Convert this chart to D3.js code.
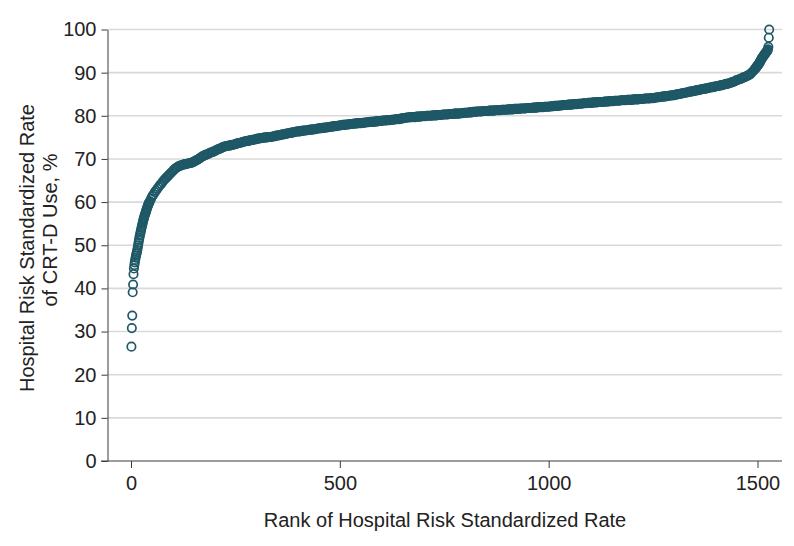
<!DOCTYPE html>
<html><head><meta charset="utf-8">
<script src="https://cdn.jsdelivr.net/npm/d3@7"></script>
<style>
body{margin:0;background:#fff}
svg{display:block}
text{font-family:"Liberation Sans",Arial,sans-serif;fill:#222}
</style>
</head><body><svg id="c" width="794" height="546"></svg>
<script>
// Low tail: hospitals ranked 1..44 (individually readable points)
const lowTailRates = [26.5, 30.8, 33.7, 39.1, 40.9, 43.3, 44.6, 45.4, 46.0, 46.6,
  47.1, 47.6, 48.0, 48.4, 48.9, 49.4, 50.0, 50.6, 51.2, 51.7,
  52.2, 52.6, 53.1, 53.5, 54.0, 54.4, 54.8, 55.2, 55.6, 56.0,
  56.3, 56.7, 57.0, 57.3, 57.6, 57.9, 58.2, 58.5, 58.8, 59.1,
  59.3, 59.6, 59.8, 60.0];
// Dense middle: rates read every 3rd rank, from rank 45 to 1494
const midStartRank = 45, midStep = 3;
const midRates = [
  60.2, 60.8, 61.4, 61.8, 62.3, 62.7, 63.1, 63.5, 63.9, 64.2,
  64.6, 65.0, 65.3, 65.6, 65.9, 66.2, 66.5, 66.8, 67.1, 67.4,
  67.7, 67.9, 68.1, 68.3, 68.4, 68.5, 68.6, 68.7, 68.8, 68.8,
  68.9, 69.0, 69.0, 69.1, 69.2, 69.3, 69.5, 69.7, 69.8, 70.0,
  70.2, 70.4, 70.6, 70.7, 70.9, 71.0, 71.1, 71.2, 71.4, 71.5,
  71.6, 71.7, 71.9, 72.0, 72.2, 72.3, 72.4, 72.5, 72.7, 72.8,
  72.9, 73.0, 73.0, 73.1, 73.1, 73.2, 73.3, 73.3, 73.4, 73.5,
  73.6, 73.7, 73.7, 73.8, 73.9, 74.0, 74.1, 74.1, 74.2, 74.2,
  74.3, 74.4, 74.4, 74.5, 74.5, 74.6, 74.7, 74.7, 74.8, 74.8,
  74.9, 74.9, 75.0, 75.0, 75.0, 75.1, 75.1, 75.1, 75.2, 75.2,
  75.3, 75.4, 75.4, 75.5, 75.5, 75.6, 75.7, 75.7, 75.8, 75.8,
  75.9, 76.0, 76.0, 76.1, 76.1, 76.2, 76.3, 76.3, 76.4, 76.4,
  76.4, 76.5, 76.5, 76.6, 76.6, 76.6, 76.7, 76.7, 76.8, 76.8,
  76.8, 76.9, 76.9, 77.0, 77.0, 77.1, 77.1, 77.1, 77.2, 77.2,
  77.3, 77.3, 77.3, 77.4, 77.4, 77.5, 77.5, 77.6, 77.6, 77.6,
  77.7, 77.7, 77.8, 77.8, 77.9, 77.9, 77.9, 78.0, 78.0, 78.0,
  78.1, 78.1, 78.1, 78.2, 78.2, 78.2, 78.3, 78.3, 78.3, 78.3,
  78.4, 78.4, 78.4, 78.5, 78.5, 78.5, 78.6, 78.6, 78.6, 78.6,
  78.7, 78.7, 78.7, 78.8, 78.8, 78.8, 78.9, 78.9, 78.9, 78.9,
  79.0, 79.0, 79.0, 79.1, 79.1, 79.1, 79.2, 79.2, 79.2, 79.2,
  79.3, 79.4, 79.4, 79.5, 79.5, 79.6, 79.6, 79.6, 79.7, 79.7,
  79.7, 79.7, 79.7, 79.8, 79.8, 79.8, 79.8, 79.9, 79.9, 79.9,
  79.9, 80.0, 80.0, 80.0, 80.0, 80.0, 80.1, 80.1, 80.1, 80.1,
  80.2, 80.2, 80.2, 80.2, 80.3, 80.3, 80.3, 80.3, 80.3, 80.4,
  80.4, 80.4, 80.4, 80.5, 80.5, 80.5, 80.5, 80.5, 80.6, 80.6,
  80.6, 80.7, 80.7, 80.7, 80.7, 80.8, 80.8, 80.8, 80.9, 80.9,
  80.9, 81.0, 81.0, 81.0, 81.0, 81.0, 81.1, 81.1, 81.1, 81.1,
  81.1, 81.2, 81.2, 81.2, 81.2, 81.2, 81.3, 81.3, 81.3, 81.3,
  81.3, 81.4, 81.4, 81.4, 81.4, 81.4, 81.5, 81.5, 81.5, 81.5,
  81.5, 81.6, 81.6, 81.6, 81.6, 81.6, 81.7, 81.7, 81.7, 81.7,
  81.7, 81.8, 81.8, 81.8, 81.8, 81.8, 81.9, 81.9, 81.9, 81.9,
  82.0, 82.0, 82.0, 82.0, 82.0, 82.1, 82.1, 82.1, 82.1, 82.1,
  82.2, 82.2, 82.2, 82.3, 82.3, 82.3, 82.3, 82.4, 82.4, 82.4,
  82.5, 82.5, 82.5, 82.5, 82.6, 82.6, 82.6, 82.6, 82.7, 82.7,
  82.7, 82.7, 82.8, 82.8, 82.8, 82.8, 82.9, 82.9, 82.9, 82.9,
  83.0, 83.0, 83.0, 83.0, 83.1, 83.1, 83.1, 83.1, 83.2, 83.2,
  83.2, 83.2, 83.2, 83.3, 83.3, 83.3, 83.3, 83.4, 83.4, 83.4,
  83.4, 83.5, 83.5, 83.5, 83.5, 83.5, 83.6, 83.6, 83.6, 83.6,
  83.6, 83.7, 83.7, 83.7, 83.7, 83.7, 83.8, 83.8, 83.8, 83.8,
  83.8, 83.9, 83.9, 83.9, 83.9, 84.0, 84.0, 84.0, 84.0, 84.0,
  84.1, 84.1, 84.1, 84.2, 84.2, 84.3, 84.3, 84.3, 84.4, 84.4,
  84.5, 84.5, 84.5, 84.6, 84.6, 84.7, 84.7, 84.7, 84.8, 84.8,
  84.9, 85.0, 85.0, 85.1, 85.1, 85.2, 85.3, 85.3, 85.4, 85.4,
  85.5, 85.6, 85.6, 85.7, 85.7, 85.8, 85.9, 85.9, 86.0, 86.0,
  86.1, 86.2, 86.2, 86.3, 86.3, 86.4, 86.5, 86.5, 86.6, 86.6,
  86.7, 86.8, 86.8, 86.9, 86.9, 87.0, 87.1, 87.1, 87.2, 87.3,
  87.4, 87.4, 87.5, 87.6, 87.7, 87.8, 87.9, 88.0, 88.2, 88.3,
  88.4, 88.5, 88.6, 88.8, 88.9, 89.0, 89.1, 89.3, 89.4, 89.6,
  89.9, 90.2, 90.5, 90.9];
// High tail: hospitals ranked 1495..1528
const highStartRank = 1495;
const highTailRates = [91.0, 91.1, 91.2, 91.4, 91.5, 91.6, 91.8, 91.9, 92.0, 92.2,
  92.3, 92.5, 92.7, 92.9, 93.1, 93.3, 93.4, 93.5, 93.7, 93.8,
  94.0, 94.1, 94.2, 94.4, 94.5, 94.6, 94.8, 94.9, 95.0, 95.2,
  95.4, 96.0, 98.1, 100.0];

const yTicks = [0, 10, 20, 30, 40, 50, 60, 70, 80, 90, 100];
const xTicks = [0, 500, 1000, 1500];
const xTitle = "Rank of Hospital Risk Standardized Rate";
const yTitleLines = ["Hospital Risk Standardized Rate", "of CRT-D Use, %"];

const points = [];
lowTailRates.forEach((v, i) => points.push({rank: i + 1, rate: v}));
midRates.forEach((v, i) => points.push({rank: midStartRank + i * midStep, rate: v}));
highTailRates.forEach((v, i) => points.push({rank: highStartRank + i, rate: v}));

const svg = d3.select("#c");
const axisX0 = 107.5, axisY0 = 461;
const plotRight = 782, axisLeftExt = 101;
const x = d3.scaleLinear().domain([0, 1500]).range([131, 757.5]);
const y = d3.scaleLinear().domain([0, 100]).range([461, 29.5]);
const axisColor = "#3a3a3a";
const markColor = "#1f5866";
const fontFam = '"Liberation Sans",Arial,sans-serif';

// gridlines
svg.append("g").selectAll("line").data(yTicks.filter(t => t > 0)).join("line")
  .attr("x1", axisX0).attr("x2", plotRight)
  .attr("y1", d => y(d)).attr("y2", d => y(d))
  .attr("stroke", "#d9d9d9").attr("stroke-width", 1.6);

// y axis
const gy = svg.append("g").attr("transform", `translate(${axisX0},0)`)
  .call(d3.axisLeft(y).tickValues(yTicks).tickSize(6).tickSizeOuter(0).tickPadding(5));
gy.select(".domain").attr("stroke", axisColor);
gy.selectAll(".tick line").attr("stroke", axisColor);
gy.selectAll(".tick text").attr("font-size", 20).attr("font-family", fontFam).attr("fill", "#222");

// x axis
const gx = svg.append("g").attr("transform", `translate(0,${axisY0})`)
  .call(d3.axisBottom(x).tickValues(xTicks).tickSize(7).tickSizeOuter(0).tickPadding(8).tickFormat(d3.format("d")));
gx.select(".domain").remove();
gx.selectAll(".tick line").attr("stroke", axisColor);
gx.selectAll(".tick text").attr("font-size", 20).attr("font-family", fontFam).attr("fill", "#222");
svg.append("line").attr("x1", axisLeftExt).attr("x2", plotRight)
  .attr("y1", axisY0).attr("y2", axisY0).attr("stroke", axisColor);

// titles
svg.append("text").attr("x", 445).attr("y", 527).attr("text-anchor", "middle")
  .attr("font-size", 20).text(xTitle);
const yTitlePos = [[27, 248], [50, 230]];
yTitleLines.forEach((t, i) => {
  svg.append("text")
    .attr("transform", `translate(${yTitlePos[i][0]},${yTitlePos[i][1]}) rotate(-90)`)
    .attr("text-anchor", "middle").attr("dy", "0.35em")
    .attr("font-size", 20).text(t);
});

// points
svg.append("g").selectAll("circle").data(points).join("circle")
  .attr("cx", d => x(d.rank)).attr("cy", d => y(d.rate))
  .attr("r", 4.2).attr("fill", "none")
  .attr("stroke", markColor).attr("stroke-width", 1.7);
</script>
</body></html>
